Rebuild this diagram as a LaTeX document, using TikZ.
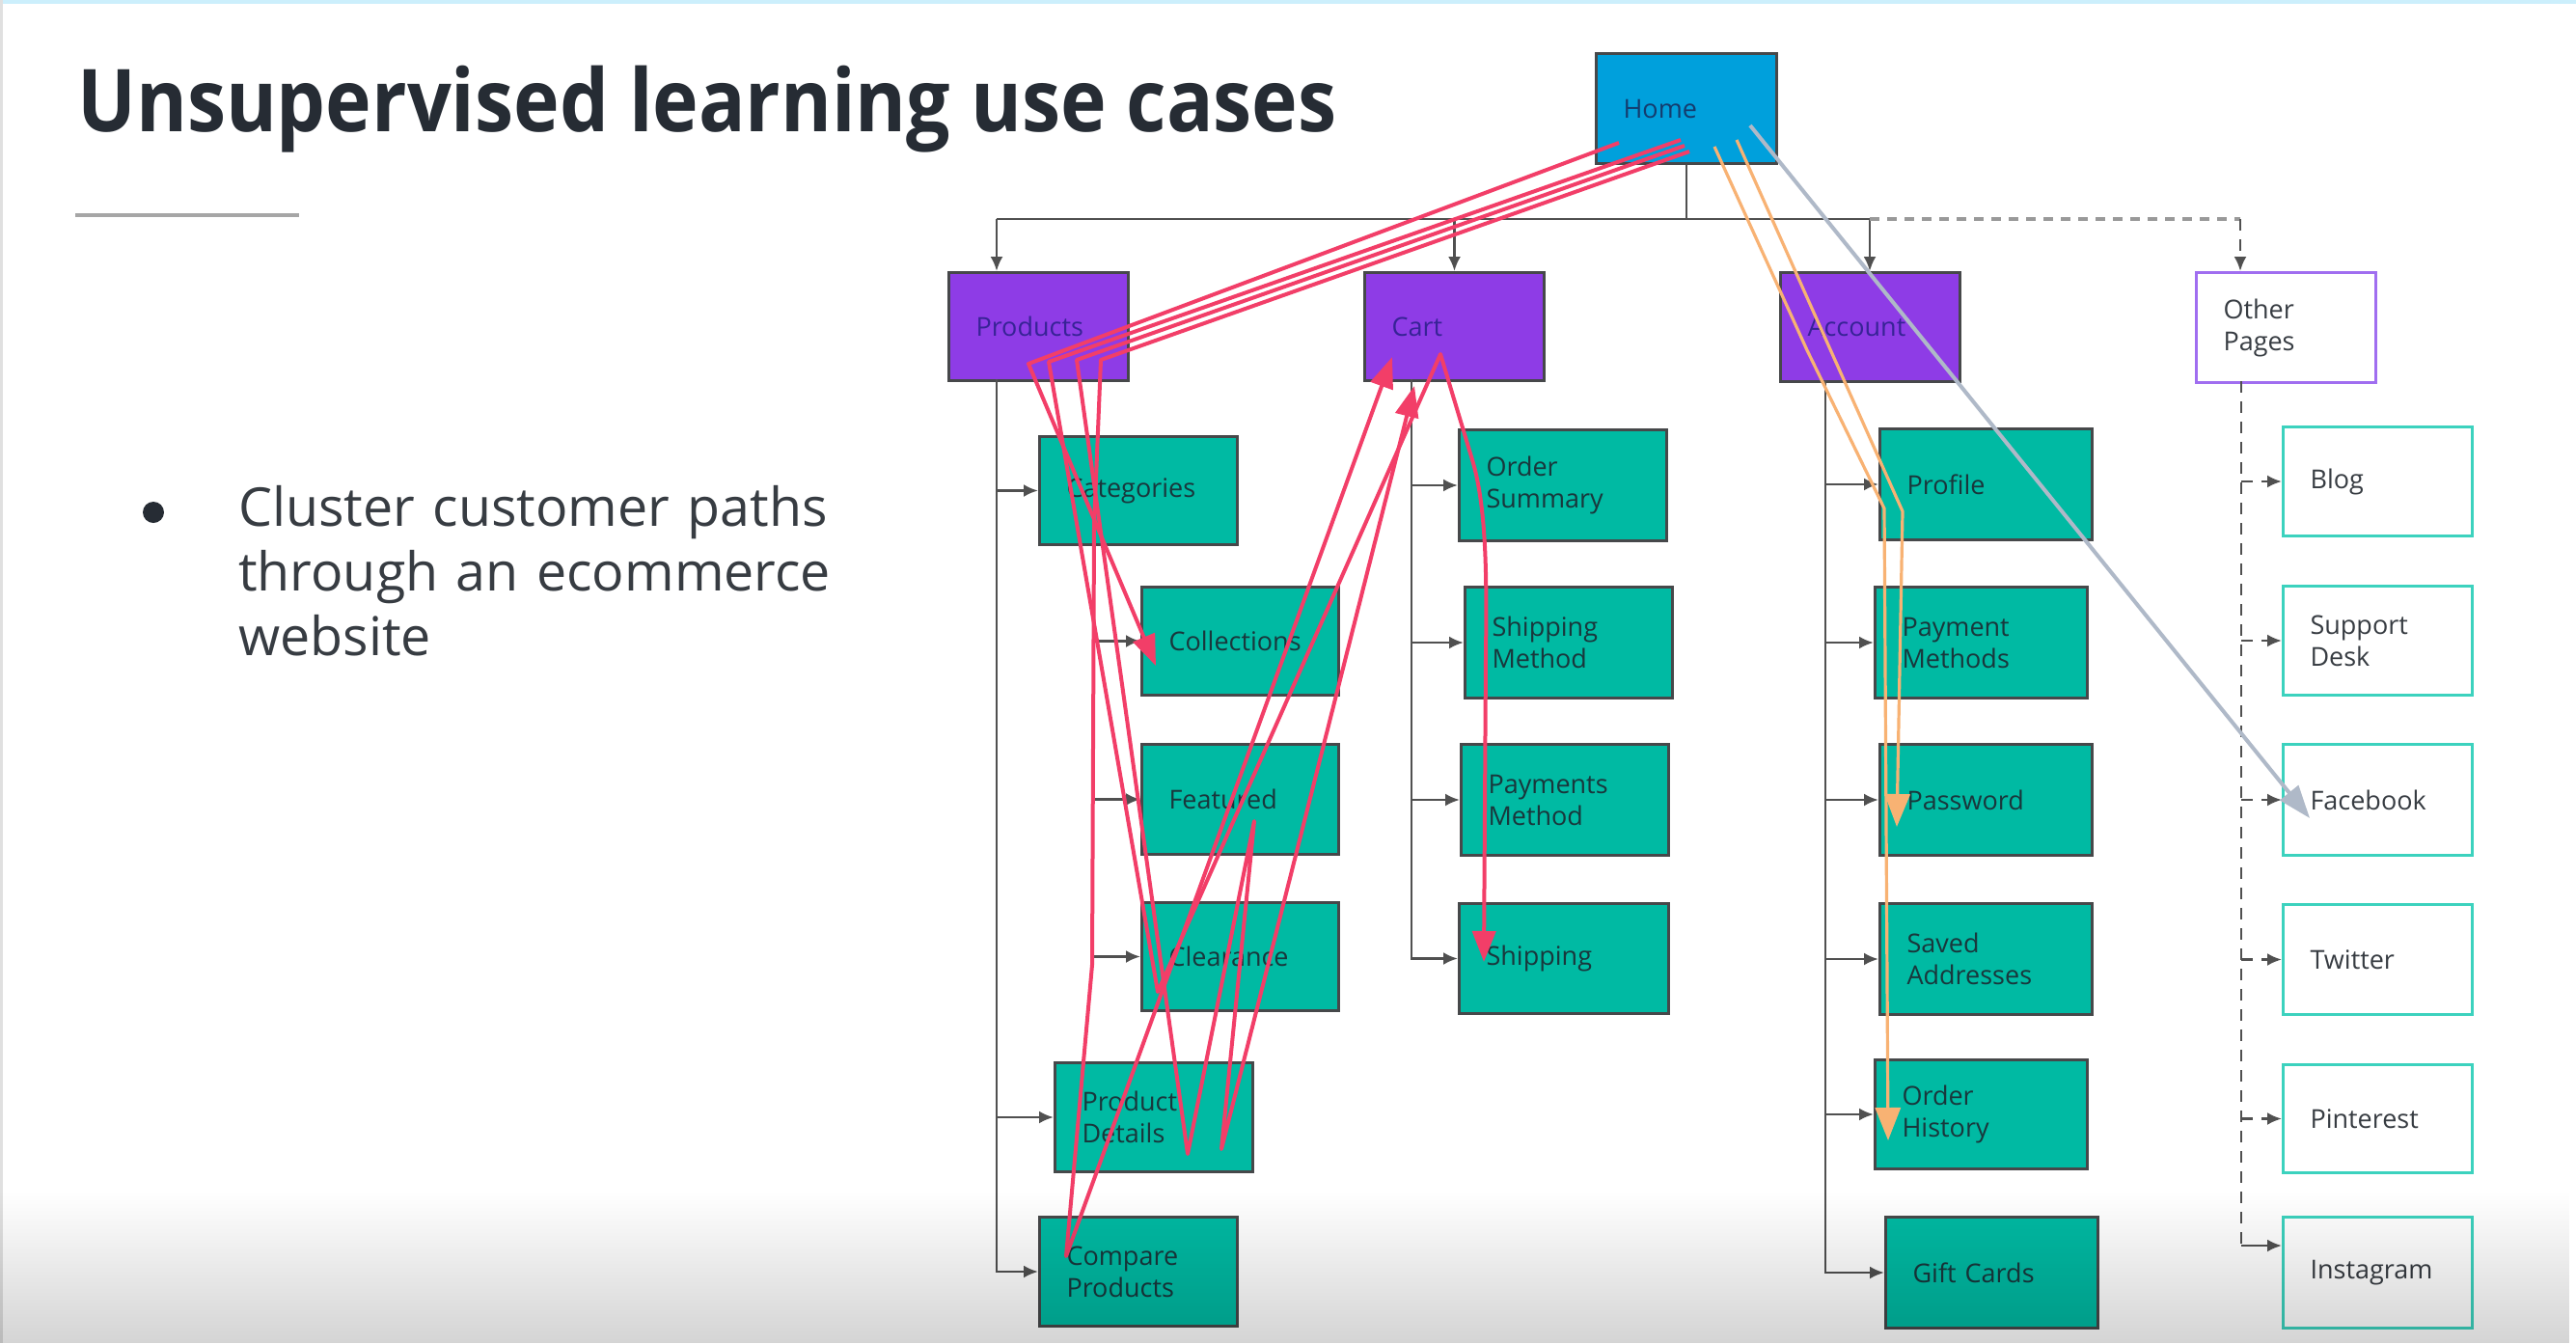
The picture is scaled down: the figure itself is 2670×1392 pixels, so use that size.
\documentclass[tikz,border=0pt]{standalone}
\usepackage{graphicx}
\usepackage{fontspec}
\setmainfont{Open Sans}
\usetikzlibrary{arrows.meta,fadings,calc}

\definecolor{homeblue}{RGB}{0,160,220}
\definecolor{purplebox}{RGB}{142,60,230}
\definecolor{purpletext}{RGB}{55,35,150}
\definecolor{purpleline}{RGB}{160,110,240}
\definecolor{tealbox}{RGB}{0,186,163}
\definecolor{tealline}{RGB}{60,210,190}
\definecolor{greentext}{RGB}{25,55,60}
\definecolor{hometext}{RGB}{20,60,110}
\definecolor{edge}{RGB}{70,72,74}
\definecolor{conncol}{RGB}{80,80,80}
\definecolor{pathred}{RGB}{242,62,104}
\definecolor{pathorange}{RGB}{248,178,115}
\definecolor{pathgray}{RGB}{175,185,200}
\definecolor{titlecol}{RGB}{38,44,52}
\definecolor{bodycol}{RGB}{55,60,66}

\newcommand{\boxfont}{\fontsize{27}{33}\selectfont}

\tikzset{
  box/.style={rectangle, anchor=north west, inner xsep=28pt, inner ysep=0pt,
    align=left, line width=3pt, font=\boxfont},
  hbox/.style={box, fill=homeblue, draw=edge, text=hometext},
  pbox/.style={box, fill=purplebox, draw=edge, text=purpletext},
  obox/.style={box, fill=white, draw=purpleline, text=bodycol},
  gbox/.style={box, fill=tealbox, draw=edge, text=greentext},
  wbox/.style={box, fill=white, draw=tealline, text=bodycol},
  conn/.style={draw=conncol, line width=2.6pt},
  connarrow/.style={conn, -{Latex[length=15pt,width=13pt]}},
  dconn/.style={draw=conncol, line width=2.6pt, dash pattern=on 12pt off 9pt},
  dconnarrow/.style={dconn, -{Latex[length=15pt,width=13pt]}},
  busdash/.style={draw=black!40, line width=4pt, dash pattern=on 10pt off 8pt},
  redpath/.style={draw=pathred, line width=4pt, line join=round,
    -{Triangle[length=32pt,width=24pt]}},
  orangepath/.style={draw=pathorange, line width=3.2pt, line join=round,
    -{Triangle[length=34pt,width=26pt]}},
  graypath/.style={draw=pathgray, line width=4pt, line join=round,
    -{Triangle[length=34pt,width=24pt]}},
}

\begin{document}
\begin{tikzpicture}[x=1pt,y=-1pt]
\useasboundingbox (0,0) rectangle (2670,1392);
\fill[white] (0,0) rectangle (2670,1392);
% slide edges
\fill[cyan!20] (0,0) rectangle (2670,4);
\fill[black!12] (0,0) rectangle (3,1392);

% title and bullet
\node[anchor=base west, inner sep=0pt, text=titlecol,
      font=\fontsize{90}{100}\selectfont\bfseries] (title) at (80,136)
      {\scalebox{0.895}[1]{Unsupervised learning use cases}};
\draw[black!35, line width=4pt] (78,223) -- (310,223);
\fill[titlecol] (159,531) circle (11);
\node[anchor=base west, inner sep=0pt, text=bodycol, text width=800pt, align=left,
      font=\fontsize{55.5}{67}\selectfont] (bullet) at (247,545)
      {Cluster customer paths\\through an ecommerce\\website};

% ---------- site map boxes ----------
\node[hbox, text width=131, minimum height=114] (home) at (1653,54) {Home};

\node[pbox, text width=130, minimum height=112] (prod) at (982,281) {Products};
\node[pbox, text width=130, minimum height=112] (cart) at (1413,281) {Cart};
\node[pbox, text width=130, minimum height=113] (acct) at (1844,281) {Account};
\node[obox, text width=130, minimum height=114] (other) at (2275,281) {Other\\Pages};

% products
\node[gbox, text width=149, minimum height=112] (cat)   at (1076,451)  {Categories};
\node[gbox, text width=148, minimum height=112] (coll)  at (1182,607)  {Collections};
\node[gbox, text width=148, minimum height=114] (feat)  at (1182,770)  {Featured};
\node[gbox, text width=148, minimum height=112] (clear) at (1182,934)  {Clearance};
\node[gbox, text width=149, minimum height=113] (pdet)  at (1092,1100) {Product\\Details};
\node[gbox, text width=149, minimum height=113] (comp)  at (1076,1260) {Compare\\Products};

% cart
\node[gbox, text width=159, minimum height=115] (osum)  at (1511,444) {Order\\Summary};
\node[gbox, text width=159, minimum height=115] (smeth) at (1517,607) {Shipping\\Method};
\node[gbox, text width=159, minimum height=115] (pmeth) at (1513,770) {Payments\\Method};
\node[gbox, text width=161, minimum height=114] (ship)  at (1511,935) {Shipping};

% account
\node[gbox, text width=164, minimum height=115] (prof)  at (1947,443)  {Profile};
\node[gbox, text width=164, minimum height=115] (paym)  at (1942,607)  {Payment\\Methods};
\node[gbox, text width=164, minimum height=115] (pass)  at (1947,770)  {Password};
\node[gbox, text width=164, minimum height=115] (saved) at (1947,935)  {Saved\\Addresses};
\node[gbox, text width=164, minimum height=113] (ohist) at (1942,1097) {Order\\History};
\node[gbox, text width=164, minimum height=115] (gift)  at (1953,1260) {Gift Cards};

% other pages
\node[wbox, text width=140, minimum height=113] (blog)  at (2365,441)  {Blog};
\node[wbox, text width=140, minimum height=113] (supp)  at (2365,606)  {Support\\Desk};
\node[wbox, text width=140, minimum height=115] (fb)    at (2365,770)  {Facebook};
\node[wbox, text width=140, minimum height=114] (twit)  at (2365,936)  {Twitter};
\node[wbox, text width=140, minimum height=112] (pin)   at (2365,1102) {Pinterest};
\node[wbox, text width=140, minimum height=115] (insta) at (2365,1260) {Instagram};

% ---------- hierarchy connectors ----------
\coordinate (busL) at (1033,227);
\coordinate (busR) at (1938,227);
\coordinate (busD) at (2322,227);
\draw[conn] (home.south) -- (home.south |- busL);
\draw[conn] (busL) -- (busR);
\draw[connarrow] (busL) -- (busL |- prod.north);
\draw[connarrow] (cart.north |- busL) -- (cart.north);
\draw[connarrow] (busR) -- (busR |- acct.north);
\draw[busdash] (busR) -- (busD);
\draw[dconnarrow] (busD) -- (busD |- other.north);

% products column
\coordinate (pcol) at (1033,393);
\draw[connarrow] (pcol) |- (comp.west);
\draw[connarrow] (pcol |- cat.west) -- (cat.west);
\draw[connarrow] (pcol |- pdet.west) -- (pdet.west);
\coordinate (scol) at (1133,563);
\draw[connarrow] (scol) |- (clear.west);
\draw[connarrow] (scol |- coll.west) -- (coll.west);
\draw[connarrow] (scol |- feat.west) -- (feat.west);

% cart column
\coordinate (ccol) at (1463,393);
\draw[connarrow] (ccol) |- (ship.west);
\draw[connarrow] (ccol |- osum.west) -- (osum.west);
\draw[connarrow] (ccol |- smeth.west) -- (smeth.west);
\draw[connarrow] (ccol |- pmeth.west) -- (pmeth.west);

% account column
\coordinate (acol) at (1892,394);
\draw[connarrow] (acol) |- (gift.west);
\draw[connarrow] (acol |- prof.west) -- (prof.west);
\draw[connarrow] (acol |- paym.west) -- (paym.west);
\draw[connarrow] (acol |- pass.west) -- (pass.west);
\draw[connarrow] (acol |- saved.west) -- (saved.west);
\draw[connarrow] (acol |- ohist.west) -- (ohist.west);

% other pages column
\coordinate (ocol) at (2323,395);
\coordinate (instaIn) at ($(insta.west)+(0,-28)$);
\draw[dconn] (ocol) -- (ocol |- instaIn);
\draw[connarrow] (ocol |- instaIn) -- (instaIn);
\draw[dconnarrow] (ocol |- blog.west) -- (blog.west);
\draw[dconnarrow] (ocol |- supp.west) -- (supp.west);
\draw[dconnarrow] (ocol |- fb.west) -- (fb.west);
\draw[dconnarrow] (ocol |- twit.west) -- (twit.west);
\draw[dconnarrow] (ocol |- pin.west) -- (pin.west);

% ---------- customer paths ----------
\coordinate (h1) at (1678,148);
\coordinate (h2) at (1742,145);
\coordinate (h3) at (1746,151);
\coordinate (h4) at (1751,157);
\coordinate (p1) at (1066,377);
\coordinate (p2) at (1087,375);
\coordinate (p3) at (1116,373);
\coordinate (p4) at (1141,373);
\coordinate (collT) at (1198,690);
\coordinate (clrV) at (1200,1028);
\coordinate (cartA) at (1493,367);
\coordinate (shipT) at (1538,997);
\coordinate (pdV1) at (1231,1196);
\coordinate (featV) at (1300,851);
\coordinate (pdV2) at (1266,1191);
\coordinate (cartB) at (1466,400);
\coordinate (subA) at (1134,545);
\coordinate (subV) at (1132,1000);
\coordinate (cmpV) at (1105,1302);
\coordinate (cartC) at (1443,370);

\draw[redpath] (h1) -- (p1) -- (collT);
\draw[redpath] (h2) -- (p2) -- (clrV) -- (cartA) -- (1527,480)
  .. controls (1541,530) and (1541,600) .. (1540,680) -- (shipT);
\draw[redpath] (h3) -- (p3) -- (pdV1) -- (featV) -- (pdV2) -- (cartB);
\draw[redpath] (h4) -- (p4) -- (subA) -- (subV) -- (cmpV) -- (cartC);

\coordinate (ho1) at (1777,152);
\coordinate (ho2) at (1800,145);
\coordinate (ohT) at (1957,1182);
\coordinate (pwT) at (1966,857);
\draw[orangepath] (ho1) -- (1873,363) -- (1953,527) -- (ohT);
\draw[orangepath] (ho2) -- (1972,530) -- (pwT);

\coordinate (hg) at (1814,130);
\coordinate (fbT) at (2394,848);
\draw[graypath] (hg) -- (fbT);

% darkening along the lower edge
\fill[black, path fading=north, fill opacity=0.17] (0,1235) rectangle (2670,1392);
\end{tikzpicture}
\end{document}
